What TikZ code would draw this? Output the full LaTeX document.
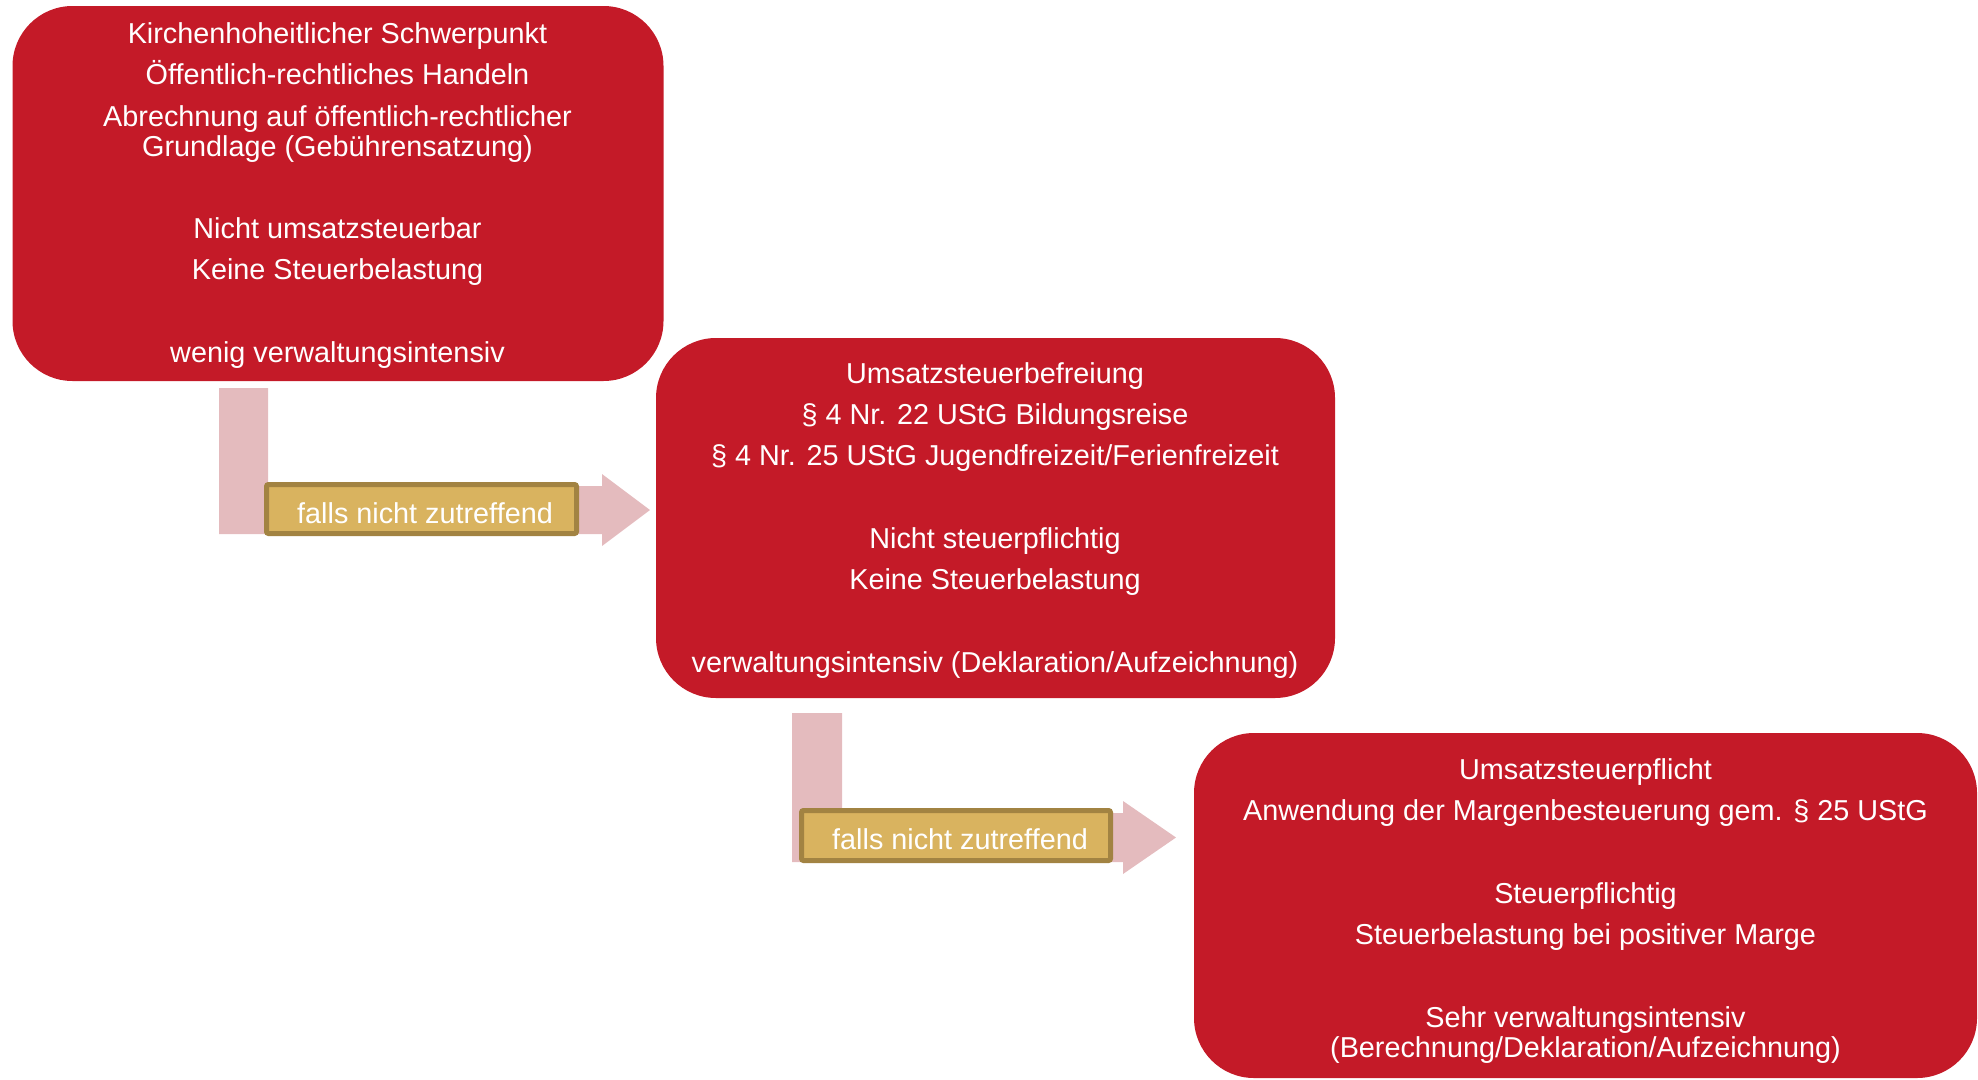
\documentclass[tikz,border=0pt]{standalone}
\usepackage{fontspec}
\setmainfont{Liberation Sans}
\definecolor{boxred}{HTML}{C41A28}
\definecolor{arrowpink}{HTML}{E4BBBE}
\definecolor{goldfill}{HTML}{D9B35F}
\definecolor{goldline}{HTML}{A28342}
\begin{document}
\begin{tikzpicture}[x=1pt,y=-1pt,
  redbox/.style={fill=boxred,draw=none,rounded corners=60pt,inner sep=0pt},
  txt/.style={text=white,inner sep=0pt,anchor=base,font=\fontsize{28.8pt}{30pt}\selectfont},
  label/.style={fill=goldfill,draw=goldline,line width=5pt,rounded corners=2pt,inner sep=0pt},
  bentarrow/.style={fill=arrowpink,draw=none}]
\useasboundingbox (0,0) rectangle (1978,1079);
% boxes
\node[redbox,minimum width=651pt,minimum height=375pt] (box1) at (338,193.5) {};
\node[redbox,minimum width=679pt,minimum height=360pt] (box2) at (995.5,518) {};
\node[redbox,minimum width=783pt,minimum height=345pt] (box3) at (1585.5,905.5) {};
% box 1 text
\node[txt] (t11) at (337.5,43) {Kirchenhoheitlicher Schwerpunkt};
\node[txt] (t12) at (337.5,84) {Öffentlich-rechtliches Handeln};
\node[txt] (t13) at (337.5,126) {Abrechnung auf öffentlich-rechtlicher};
\node[txt] (t14) at (337.5,156) {Grundlage (Gebührensatzung)};
\node[txt] (t15) at (337.5,238) {Nicht umsatzsteuerbar};
\node[txt] (t16) at (337.5,279) {Keine Steuerbelastung};
\node[txt] (t17) at (337.5,362) {wenig verwaltungsintensiv};
% box 2 text
\node[txt] (t21) at (995,383) {Umsatzsteuerbefreiung};
\node[txt] (t22) at (995,424) {§ 4 Nr. 22 UStG Bildungsreise};
\node[txt] (t23) at (995,465) {§ 4 Nr. 25 UStG Jugendfreizeit/Ferienfreizeit};
\node[txt] (t24) at (995,548) {Nicht steuerpflichtig};
\node[txt] (t25) at (995,589) {Keine Steuerbelastung};
\node[txt] (t26) at (995,672) {verwaltungsintensiv (Deklaration/Aufzeichnung)};
% box 3 text
\node[txt] (t31) at (1585.5,779) {Umsatzsteuerpflicht};
\node[txt] (t32) at (1585.5,820) {Anwendung der Margenbesteuerung gem. § 25 UStG};
\node[txt] (t33) at (1585.5,903) {Steuerpflichtig};
\node[txt] (t34) at (1585.5,944) {Steuerbelastung bei positiver Marge};
\node[txt] (t35) at (1585.5,1027) {Sehr verwaltungsintensiv};
\node[txt] (t36) at (1585.5,1057) {(Berechnung/Deklaration/Aufzeichnung)};
% bent arrows
\coordinate (a1start) at (219,388);
\coordinate (a1tip) at (650,510);
\fill[bentarrow] (a1start) -- (268,388) -- (268,486) -- (602,486) -- (602,474) -- (a1tip)
  -- (602,546) -- (602,534) -- (219,534) -- cycle;
\coordinate (a2start) at (792,713);
\coordinate (a2tip) at (1176,837.5);
\fill[bentarrow] (a2start) -- (842,713) -- (842,813) -- (1123,813) -- (1123,801) -- (a2tip)
  -- (1123,874) -- (1123,862) -- (792,862) -- cycle;
% labels
\node[label,minimum width=310pt,minimum height=49pt] (lab1) at (421.5,509) {};
\node[txt] (lt1) at (425,523) {falls nicht zutreffend};
\node[label,minimum width=309pt,minimum height=50pt] (lab2) at (956,835.5) {};
\node[txt] (lt2) at (960,849) {falls nicht zutreffend};
\end{tikzpicture}
\end{document}
